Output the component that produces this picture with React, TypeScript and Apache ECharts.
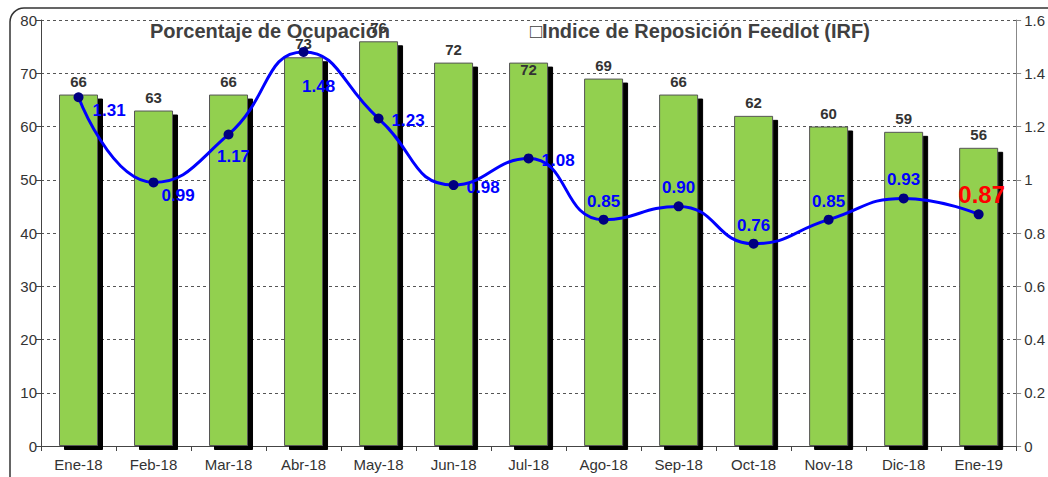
import React, { useEffect, useRef } from "react";
import * as echarts from "echarts";

const categories = ["Ene-18", "Feb-18", "Mar-18", "Abr-18", "May-18", "Jun-18", "Jul-18", "Ago-18", "Sep-18", "Oct-18", "Nov-18", "Dic-18", "Ene-19"];
const ocupacion = [66, 63, 66, 73, 76, 72, 72, 69, 66, 62, 60, 59, 56];
const irf = [1.31, 0.99, 1.17, 1.48, 1.23, 0.98, 1.08, 0.85, 0.9, 0.76, 0.85, 0.93, 0.87];
const irfLabelPos = ["br", "br", "b", "b", "r", "r", "r", "t", "t", "t", "t", "t", "tr"];
const leftTicks = [0, 10, 20, 30, 40, 50, 60, 70, 80];
const rightTicks = [0, 0.2, 0.4, 0.6, 0.8, 1, 1.2, 1.4, 1.6];

const FONT = "'Liberation Sans', Arial, sans-serif";

export default function App() {
  const ref = useRef<HTMLDivElement>(null);
  useEffect(() => {
    if (!ref.current) return;
    const chart = echarts.init(ref.current, null, { renderer: "svg" });
    const lineData = irf.map((v, i) => {
      const p = irfLabelPos[i];
      const last = i === irf.length - 1;
      let position: any = "top";
      let offset = [0, 0];
      if (p === "br") { position = "right"; offset = [4, 13]; }
      if (p === "b") { position = "bottom"; offset = [5, 4]; }
      if (p === "r") { position = "right"; offset = [3, 2]; }
      if (p === "t") { position = "top"; offset = [0, 0]; }
      if (p === "tr") { position = "top"; offset = [3, 2]; }
      if (i === 1) offset = [-2, 13];
      if (i === 3) offset = [15, 16];
      return {
        value: v,
        label: {
          position,
          offset,
          color: last ? "#FF0000" : "#0000FF",
          fontSize: last ? 24 : 17,
        },
      };
    });
    const barData = ocupacion.map((v, i) => ({
      value: v,
      label: i === 6 ? { position: "insideTop", offset: [0, -1], distance: 0 } : undefined,
    }));
    chart.setOption({
      animation: false,
      backgroundColor: "#fff",
      textStyle: { fontFamily: FONT },
      grid: { left: 41, right: 27, top: 20, bottom: 31 },
      graphic: [
        {
          type: "rect",
          shape: { x: 10, y: 8, width: 1070, height: 490, r: 14 },
          style: { fill: "none", stroke: "#333", lineWidth: 1.5 },
          silent: true,
        },
        {
          type: "text",
          left: 150,
          top: 21,
          style: { text: "Porcentaje de Ocupación", font: `bold 20px ${FONT}`, fill: "#404040" },
          z: 10,
        },
        {
          type: "text",
          left: 530,
          top: 21,
          style: { text: "\u25A1Indice de Reposición Feedlot (IRF)", font: `bold 20px ${FONT}`, fill: "#404040" },
          z: 10,
        },
      ],
      xAxis: {
        type: "category",
        data: categories,
        axisLine: { lineStyle: { color: "#444", width: 1 } },
        axisTick: { show: true, length: 5, lineStyle: { color: "#444" } },
        axisLabel: { color: "#333", fontSize: 15, margin: 11, fontFamily: FONT },
      },
      yAxis: [
        {
          type: "value",
          min: 0,
          max: 80,
          interval: 10,
          axisLine: { show: true, lineStyle: { color: "#444" } },
          axisTick: { show: true, length: 5, lineStyle: { color: "#444" } },
          axisLabel: { color: "#333", fontSize: 15, margin: 4, fontFamily: FONT },
          splitLine: { show: true, lineStyle: { color: "#555", type: [3, 3], width: 1 } },
        },
        {
          type: "value",
          min: 0,
          max: 1.6,
          interval: 0.2,
          position: "right",
          axisLine: { show: true, lineStyle: { color: "#888" } },
          axisTick: { show: true, length: 5, lineStyle: { color: "#888" } },
          axisLabel: { color: "#333", fontSize: 15, margin: 8, fontFamily: FONT, formatter: (v: number) => String(Math.round(v * 10) / 10) },
          splitLine: { show: false },
        },
      ],
      series: [
        {
          name: "Porcentaje de Ocupación",
          type: "bar",
          data: barData,
          barWidth: 39,
          itemStyle: {
            color: "#92D050",
            borderColor: "#555",
            borderWidth: 1,
            shadowColor: "#000",
            shadowOffsetX: 5,
            shadowOffsetY: 4,
            shadowBlur: 0,
          },
          label: {
            show: true,
            position: "top",
            distance: 6,
            color: "#333",
            fontWeight: "bold",
            fontSize: 15,
            fontFamily: FONT,
          },
          z: 2,
        },
        {
          name: "Indice de Reposición Feedlot (IRF)",
          type: "line",
          yAxisIndex: 1,
          data: lineData,
          smooth: 0.5,
          symbol: "circle",
          symbolSize: 10,
          lineStyle: { color: "#0000FF", width: 3 },
          itemStyle: { color: "#000080" },
          label: {
            show: true,
            fontWeight: "bold",
            fontFamily: FONT,
            formatter: (p: any) => p.value.toFixed(2),
          },
          z: 5,
        },
      ],
    });
    return () => chart.dispose();
  }, []);
  return <div ref={ref} style={{ position: "absolute", left: 0, top: 0, width: 1048, height: 477 }} />;
}
